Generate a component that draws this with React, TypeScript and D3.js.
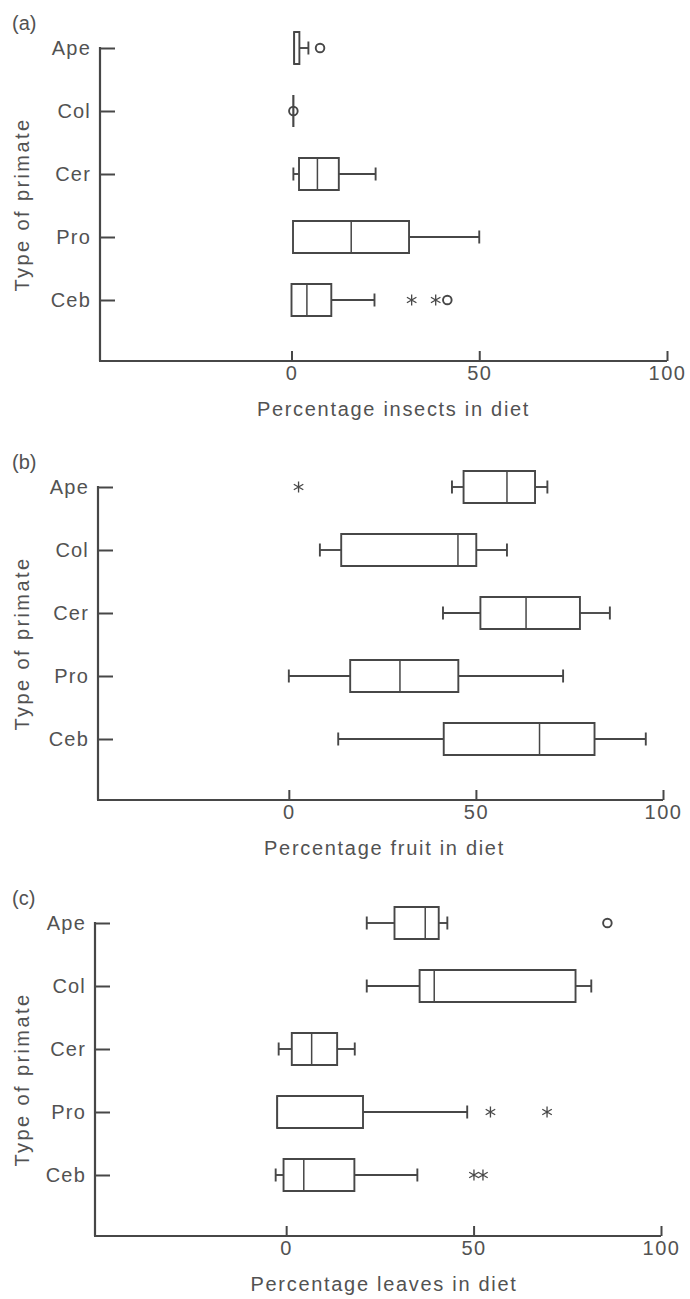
import React, { useEffect, useRef } from "react";
import * as d3 from "d3";

const categories = ["Ape", "Col", "Cer", "Pro", "Ceb"];

// (a) insects
const insectsLow = [0.7, 0.5, 0.5, 0.4, 0];
const insectsQ1 = [0.7, 0.5, 2.0, 0.4, 0];
const insectsMedian = [0.7, 0.5, 6.9, 15.9, 4.1];
const insectsQ3 = [2.1, 0.5, 12.6, 31.3, 10.6];
const insectsHigh = [4.5, 0.5, 22.4, 50, 22.1];
const insectsOutliers = [
  ["Ape", 7.6, "o"],
  ["Col", 0.5, "o"],
  ["Ceb", 32, "*"],
  ["Ceb", 38.4, "*"],
  ["Ceb", 41.5, "o"],
];

// (b) fruit
const fruitLow = [43.6, 8.3, 41.2, 0, 13.2];
const fruitQ1 = [46.7, 14.0, 51.2, 16.4, 41.4];
const fruitMedian = [58.3, 45.2, 63.4, 29.7, 67.0];
const fruitQ3 = [65.8, 50.1, 77.8, 45.3, 81.7];
const fruitHigh = [69.1, 58.3, 85.8, 73.3, 95.4];
const fruitOutliers = [["Ape", 2.6, "*"]];

// (c) leaves
const leavesLow = [21.5, 21.5, -2.0, -2.4, -2.8];
const leavesQ1 = [28.9, 35.6, 1.5, -2.4, -0.7];
const leavesMedian = [37.1, 39.5, 6.8, -2.4, 4.7];
const leavesQ3 = [40.7, 77.2, 13.6, 20.5, 18.2];
const leavesHigh = [43.0, 81.4, 18.3, 48.3, 35.0];
const leavesOutliers = [
  ["Ape", 85.7, "o"],
  ["Pro", 54.5, "*"],
  ["Pro", 69.6, "*"],
  ["Ceb", 50.1, "*"],
  ["Ceb", 52.5, "*"],
];

const xTicks = [0, 50, 100];
const yLabel = "Type of primate";

const panels = [
  { tag: "(a)", title: "Percentage insects in diet", low: insectsLow, q1: insectsQ1, med: insectsMedian, q3: insectsQ3, high: insectsHigh, out: insectsOutliers, top: 48, left: 100, right: 667, tshift: 10 },
  { tag: "(b)", title: "Percentage fruit in diet", low: fruitLow, q1: fruitQ1, med: fruitMedian, q3: fruitQ3, high: fruitHigh, out: fruitOutliers, top: 487, left: 98, right: 663, tshift: 4 },
  { tag: "(c)", title: "Percentage leaves in diet", low: leavesLow, q1: leavesQ1, med: leavesMedian, q3: leavesQ3, high: leavesHigh, out: leavesOutliers, top: 923, left: 95, right: 661, tshift: 6 },
];

const STEP = 63;
const INK = "#474747";
const TEXT = "#525252";
const FONT = "'Liberation Sans', Arial, sans-serif";

function asterisk(cx, cy, r) {
  const p = d3.path();
  const c = Math.cos(Math.PI / 6) * r;
  const s = Math.sin(Math.PI / 6) * r;
  p.moveTo(cx, cy - r);
  p.lineTo(cx, cy + r);
  p.moveTo(cx - c, cy - s);
  p.lineTo(cx + c, cy + s);
  p.moveTo(cx - c, cy + s);
  p.lineTo(cx + c, cy - s);
  return p.toString();
}

export default function App() {
  const svgRef = useRef(null);

  useEffect(() => {
    const svg = d3.select(svgRef.current);
    svg.selectAll("*").remove();

    panels.forEach((p) => {
      const g = svg.append("g");
      const x = d3.scaleLinear().domain([-51, 100]).range([p.left, p.right]);
      const y = d3.scalePoint().domain(categories).range([p.top, p.top + 4 * STEP]);
      const axisY = p.top + 4 * STEP + 61;
      const boxH = 32;
      const capH = 13;

      // panel tag
      g.append("text")
        .attr("x", 12)
        .attr("y", p.top - 18)
        .text(p.tag)
        .style("font", `20px ${FONT}`)
        .attr("fill", TEXT);

      // y axis
      const ya = g.append("g").attr("transform", `translate(${p.left},0)`)
        .call(d3.axisLeft(y).tickSize(-15).tickPadding(9));
      ya.select(".domain").remove();
      ya.selectAll("line").attr("stroke", INK).attr("stroke-width", 2);
      ya.selectAll("text")
        .style("font", `20px ${FONT}`)
        .attr("letter-spacing", "1.2")
        .attr("fill", TEXT);
      g.append("line")
        .attr("x1", p.left).attr("x2", p.left)
        .attr("y1", p.top - 1).attr("y2", axisY)
        .attr("stroke", INK).attr("stroke-width", 2.2);

      // x axis
      const xa = g.append("g").attr("transform", `translate(0,${axisY})`)
        .call(d3.axisBottom(x).tickValues(xTicks).tickSize(-10).tickPadding(5));
      xa.select(".domain").remove();
      xa.selectAll("line").attr("stroke", INK).attr("stroke-width", 2);
      xa.selectAll("text")
        .style("font", `20px ${FONT}`)
        .attr("letter-spacing", "1.5")
        .attr("fill", TEXT);
      g.append("line")
        .attr("x1", p.left - 1).attr("x2", p.right)
        .attr("y1", axisY).attr("y2", axisY)
        .attr("stroke", INK).attr("stroke-width", 2.2);

      // titles
      g.append("text")
        .attr("x", (p.left + p.right) / 2 + p.tshift)
        .attr("y", axisY + 55)
        .attr("text-anchor", "middle")
        .attr("letter-spacing", "1.7")
        .style("font", `20px ${FONT}`)
        .attr("fill", TEXT)
        .text(p.title);
      g.append("text")
        .attr("transform", `translate(29,${(p.top + axisY) / 2}) rotate(-90)`)
        .attr("text-anchor", "middle")
        .attr("letter-spacing", "2.4")
        .style("font", `20px ${FONT}`)
        .attr("fill", TEXT)
        .text(yLabel);

      // boxes
      categories.forEach((c, i) => {
        const cy = y(c);
        const x1 = x(p.q1[i]);
        const x3 = x(p.q3[i]);
        const bx = g.append("g").attr("fill", "none").attr("stroke", INK).attr("stroke-width", 1.9);
        bx.append("path")
          .attr("d", `M${x1},${cy - boxH / 2}H${x3}V${cy + boxH / 2}H${x1}Z`);
        bx.append("line")
          .attr("x1", x(p.med[i])).attr("x2", x(p.med[i]))
          .attr("y1", cy - boxH / 2).attr("y2", cy + boxH / 2)
          .attr("stroke-width", 1.5);
        if (p.low[i] < p.q1[i]) {
          bx.append("line").attr("x1", x(p.low[i])).attr("x2", x1).attr("y1", cy).attr("y2", cy);
          bx.append("line").attr("x1", x(p.low[i])).attr("x2", x(p.low[i]))
            .attr("y1", cy - capH / 2).attr("y2", cy + capH / 2);
        }
        if (p.high[i] > p.q3[i]) {
          bx.append("line").attr("x1", x3).attr("x2", x(p.high[i])).attr("y1", cy).attr("y2", cy);
          bx.append("line").attr("x1", x(p.high[i])).attr("x2", x(p.high[i]))
            .attr("y1", cy - capH / 2).attr("y2", cy + capH / 2);
        }
      });

      // outliers
      p.out.forEach(([c, v, k]) => {
        const cx = x(v);
        const cy = y(c);
        if (k === "o") {
          g.append("circle").attr("cx", cx).attr("cy", cy).attr("r", 4.3)
            .attr("fill", "none").attr("stroke", INK).attr("stroke-width", 1.9);
        } else {
          g.append("path").attr("d", asterisk(cx, cy, 5.5))
            .attr("fill", "none").attr("stroke", INK).attr("stroke-width", 1.3);
        }
      });
    });
  }, []);

  return (
    <svg
      ref={svgRef}
      width={690}
      height={1299}
      style={{ position: "absolute", left: 0, top: 0, background: "#fff" }}
    />
  );
}
